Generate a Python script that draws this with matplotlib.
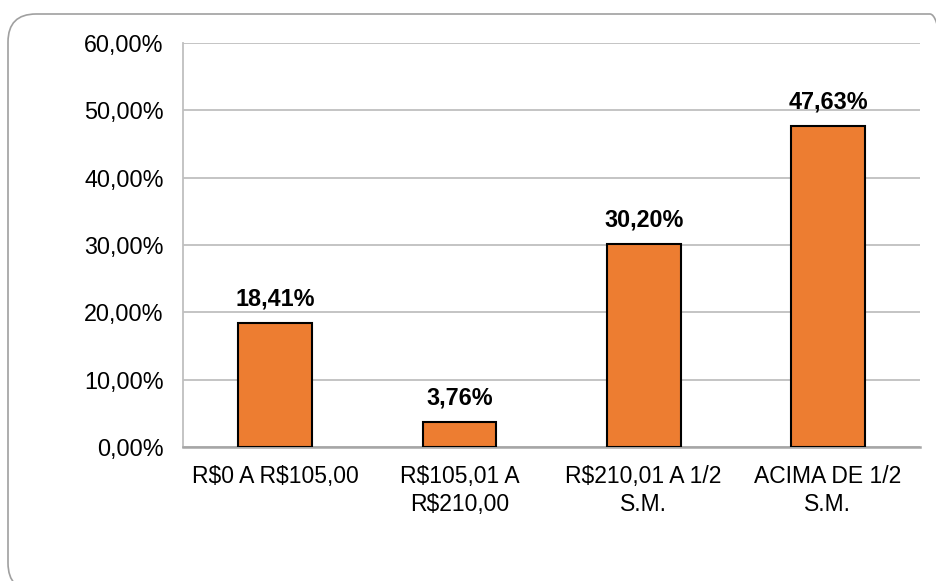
import matplotlib.pyplot as plt
from matplotlib.patches import FancyBboxPatch
from matplotlib.transforms import IdentityTransform
import numpy as np

categories = ['R$0 A R$105,00', 'R$105,01 A\nR$210,00', 'R$210,01 A 1/2\nS.M.', 'ACIMA DE 1/2\nS.M.']
values = [18.41, 3.76, 30.20, 47.63]
labels = ['18,41%', '3,76%', '30,20%', '47,63%']
yticks = [0, 10, 20, 30, 40, 50, 60]

plt.rcParams['font.family'] = ['Liberation Sans', 'DejaVu Sans']
plt.rcParams['text.parse_math'] = False  # keep the R$ signs literal

fig = plt.figure(figsize=(9.36, 5.81), dpi=100)
ax = fig.add_axes([0.1955, 0.2306, 0.983 - 0.1955, 0.926 - 0.2306])

# rounded frame around the chart (pixel coords)
frame = FancyBboxPatch((8, -10), 950, 577, boxstyle='round,pad=0,rounding_size=28',
                       transform=IdentityTransform(), facecolor='none',
                       edgecolor='#A0A0A0', linewidth=1.2, clip_on=False)
fig.patches.append(frame)

x = np.arange(len(categories))
bars = ax.bar(x, values, width=0.4, color='#ED7D31', edgecolor='black', linewidth=1.5, zorder=3)

for b, lab in zip(bars, labels):
    ax.annotate(lab, (b.get_x() + b.get_width() / 2, b.get_height()),
                xytext=(0, 9), textcoords='offset points', ha='center', va='bottom',
                fontsize=16.8, fontweight='bold', color='black')

ax.set_xlim(-0.5, 3.5)
ax.set_ylim(0, 60)
ax.set_yticks(yticks)
ax.set_yticklabels(['%d,00%%' % t for t in yticks], fontsize=16.8)
ax.set_xticks(x)
ax.set_xticklabels(categories, fontsize=16.5, linespacing=1.3)
ax.tick_params(axis='y', length=0, pad=14)
ax.tick_params(axis='x', length=0, pad=13)

ax.grid(axis='y', color='#BFBFBF', linewidth=1.3, zorder=0)
ax.set_axisbelow(True)
for s in ['top', 'right']:
    ax.spines[s].set_visible(False)
ax.spines['left'].set_color('#BFBFBF')
ax.spines['left'].set_linewidth(1.3)
ax.spines['bottom'].set_color('#A6A6A6')
ax.spines['bottom'].set_linewidth(1.8)

fig.savefig('out.png', dpi=100)
